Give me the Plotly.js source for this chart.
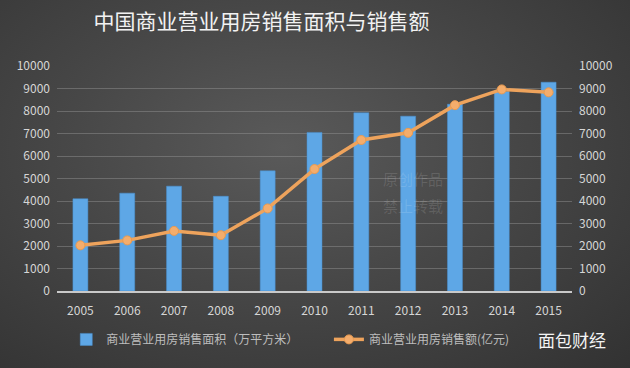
<!DOCTYPE html>
<html>
<head>
<meta charset="utf-8">
<script src="https://cdn.plot.ly/plotly-3.0.1.min.js"></script>
<style>
html,body{margin:0;padding:0;width:630px;height:368px;overflow:hidden;}
body{background:radial-gradient(ellipse at 45% 40%, #5a5a5a 0%, #474747 45%, #323232 100%);}
#chart{width:630px;height:368px;}
</style>
</head>
<body>
<div id="chart"></div>
<script>
const years = ["2005","2006","2007","2008","2009","2010","2011","2012","2013","2014","2015"];
const areaValues = [4100, 4350, 4660, 4210, 5340, 7050, 7920, 7770, 8300, 8870, 9280];
const salesValues = [2030, 2250, 2670, 2480, 3670, 5420, 6710, 7030, 8260, 8960, 8830];
const tickVals = [0,1000,2000,3000,4000,5000,6000,7000,8000,9000,10000];
const areaName = "商业营业用房销售面积（万平方米）";
const salesName = "商业营业用房销售额(亿元)";

const font = "'Noto Sans CJK SC', 'Noto Sans', sans-serif";

const traces = [
  {
    type: "bar", x: years, y: areaValues, name: areaName,
    marker: {color: "#5ea7e6", line: {color: "#4a90d0", width: 0.5}},
    yaxis: "y", hoverinfo: "y", legend: "legend"
  },
  {
    type: "scatter", mode: "lines+markers", x: years, y: salesValues, name: salesName,
    line: {color: "#eea35c", width: 3.5},
    marker: {color: "#f4ad6c", size: 9, line: {color: "#e89a50", width: 1}},
    yaxis: "y2", hoverinfo: "y", legend: "legend2"
  }
];

const axisCommon = {
  range: [0, 10000], tickvals: tickVals, ticktext: tickVals.map(String),
  tickfont: {family: font, size: 12, color: "#d6d6d6"},
  showline: false, zeroline: false, fixedrange: true
};

const legendCommon = {
  orientation: "h", xanchor: "left", y: -0.215, yanchor: "middle",
  font: {family: font, size: 12, color: "#bdbdbd"},
  bgcolor: "rgba(0,0,0,0)"
};

const layout = {
  width: 630, height: 368,
  margin: {l: 57, r: 58, t: 66, b: 77, autoexpand: false},
  paper_bgcolor: "rgba(0,0,0,0)",
  plot_bgcolor: "rgba(0,0,0,0)",
  title: {
    text: "中国商业营业用房销售面积与销售额",
    font: {family: font, size: 21, color: "#f2f2f2"},
    xref: "container", x: 0.415, xanchor: "center",
    yref: "container", y: 0.94, yanchor: "middle"
  },
  bargap: 0.68,
  showlegend: true,
  legend: Object.assign({}, legendCommon, {x: 0.018}),
  legend2: Object.assign({}, legendCommon, {x: 0.528}),
  xaxis: {
    type: "category", range: [-0.5, 10.5],
    tickfont: {family: font, size: 12, color: "#d6d6d6"},
    showgrid: false, showline: true, linecolor: "#c9c9c9", linewidth: 2,
    ticks: "", ticklabelstandoff: 8, fixedrange: true
  },
  yaxis: Object.assign({}, axisCommon, {
    side: "left", showgrid: true, gridcolor: "rgba(150,150,150,0.45)", gridwidth: 1,
    ticklabelstandoff: 6
  }),
  yaxis2: Object.assign({}, axisCommon, {
    side: "right", overlaying: "y", showgrid: false, ticklabelstandoff: 6
  }),
  annotations: [
    {
      text: "面包财经", xref: "paper", yref: "paper", x: 1.07, y: -0.215,
      xanchor: "right", yanchor: "middle", showarrow: false,
      font: {family: font, size: 17, color: "#f4f4f4"}
    },
    {
      text: "原创作品", xref: "paper", yref: "paper", x: 0.63, y: 0.5,
      xanchor: "left", yanchor: "middle", showarrow: false,
      font: {family: font, size: 15, color: "rgba(255,255,255,0.13)"}
    },
    {
      text: "禁止转载", xref: "paper", yref: "paper", x: 0.63, y: 0.38,
      xanchor: "left", yanchor: "middle", showarrow: false,
      font: {family: font, size: 15, color: "rgba(255,255,255,0.13)"}
    }
  ]
};

Plotly.newPlot("chart", traces, layout, {displayModeBar: false, staticPlot: true});
</script>
</body>
</html>
